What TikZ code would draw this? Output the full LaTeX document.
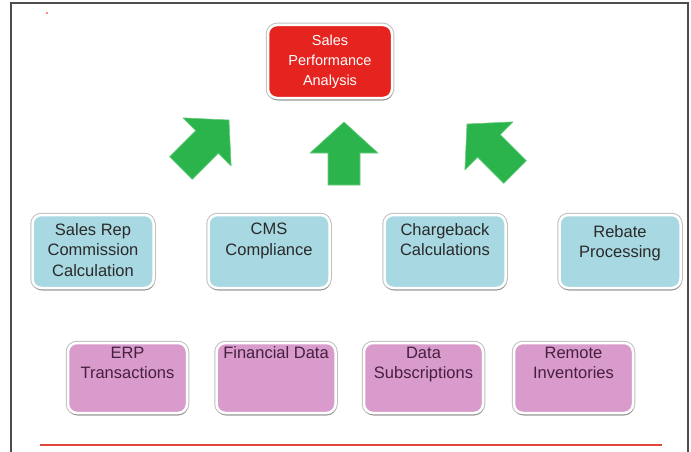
\documentclass[tikz,border=0pt]{standalone}
\usepackage{fontspec}
\setmainfont{Liberation Sans}
\usetikzlibrary{shadows}
\definecolor{redfill}{HTML}{E52420}
\definecolor{bluefill}{HTML}{A8D8E1}
\definecolor{pinkfill}{HTML}{D99BCB}
\definecolor{bluetextc}{HTML}{2A2A2A}
\definecolor{pinktextc}{HTML}{45203F}
\definecolor{arrowgreen}{HTML}{2CB44C}
\definecolor{framec}{HTML}{4D4D4D}
\definecolor{footline}{HTML}{E2473F}
\tikzset{
  boxbase/.style={rounded corners=9pt, inner sep=0pt, draw=white, line width=2.5pt,
    preaction={draw=black!25, line width=4.5pt},
    drop shadow={shadow xshift=0.5pt, shadow yshift=-2.5pt, opacity=0.4, fill=black!70}},
  topbox/.style={boxbase, fill=redfill, minimum width=124pt, minimum height=73pt},
  midbox/.style={boxbase, fill=bluefill, minimum width=121pt, minimum height=73pt},
  lowbox/.style={boxbase, fill=pinkfill, minimum width=119pt, minimum height=70pt},
  labeltext/.style={inner sep=0pt, align=center, anchor=north, font=\fontsize{16.5}{20.5}\selectfont},
  toptext/.style={labeltext, text=white, font=\fontsize{14.5}{20}\selectfont},
  midtext/.style={labeltext, text=bluetextc},
  lowtext/.style={labeltext, text=pinktextc},
  greenarrow/.style={fill=arrowgreen, draw=arrowgreen!70, line width=0.6pt, line join=round},
}
\begin{document}
\begin{tikzpicture}[x=1pt, y=-1pt]
\useasboundingbox[fill=white] (0,0) rectangle (691,452);
% frame
\draw[framec, line width=1.4pt] (11,452) -- (11,3) -- (688,3) -- (688,452);
\fill[red!60] (47,13) circle (1.2pt);
\draw[footline, line width=1.1pt] (40,445) -- (662,445);

% top box
\node[topbox] (spa) at (330,61.5) {};
\node[toptext] (spat) at ([yshift=-11.5pt]spa.north) {Sales\\Performance\\Analysis};

% middle row
\node[midbox] (m1) at (93,251.5) {};
\node[midbox] (m2) at (269,251.5) {};
\node[midbox] (m3) at (445,251.5) {};
\node[midbox] (m4) at (620,251.5) {};
\node[midtext] (m1t) at ([yshift=-9.5pt]m1.north) {Sales Rep\\Commission\\Calculation};
\node[midtext] (m2t) at ([yshift=-9.5pt]m2.north) {CMS\\Compliance};
\node[midtext] (m3t) at ([yshift=-9.5pt]m3.north) {Chargeback\\Calculations};
\node[midtext] (m4t) at ([yshift=-11.5pt]m4.north) {Rebate\\Processing};

% bottom row
\node[lowbox] (l1) at (127.5,378) {};
\node[lowbox] (l2) at (276,378) {};
\node[lowbox] (l3) at (423.5,378) {};
\node[lowbox] (l4) at (573.5,378) {};
\node[lowtext] (l1t) at ([yshift=-5pt]l1.north) {ERP\\Transactions};
\node[lowtext] (l2t) at ([yshift=-5pt]l2.north) {Financial Data};
\node[lowtext] (l3t) at ([yshift=-5pt]l3.north) {Data\\Subscriptions};
\node[lowtext] (l4t) at ([yshift=-5pt]l4.north) {Remote\\Inventories};

% green block arrows
\fill[greenarrow, shift={(344,122)}] (0,0) -- (34,31) -- (16,31) -- (16,63) -- (-16,63) -- (-16,31) -- (-34,31) -- cycle;
\fill[greenarrow, shift={(229,120)}, rotate=-45] (0,0) -- (34,31) -- (16,31) -- (16,68) -- (-16,68) -- (-16,31) -- (-34,31) -- cycle;
\fill[greenarrow, shift={(467,124)}, rotate=45] (0,0) -- (34,31) -- (16,31) -- (16,68) -- (-16,68) -- (-16,31) -- (-34,31) -- cycle;
\end{tikzpicture}
\end{document}
